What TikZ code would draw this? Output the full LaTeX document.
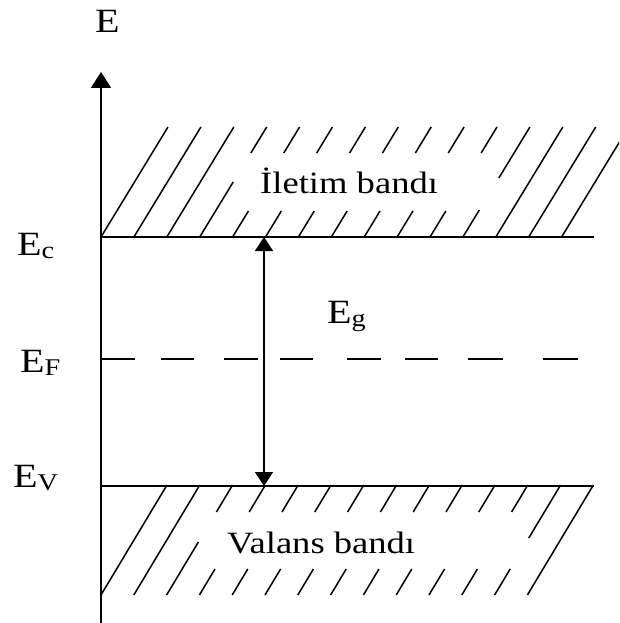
\documentclass[tikz,border=0pt]{standalone}
\usepackage{fontspec}
\setmainfont[FakeStretch=1.18]{Liberation Serif}
\usetikzlibrary{arrows.meta}
\newcommand\mysub[1]{\raisebox{-3pt}{\fontsize{24}{24}\selectfont #1}}
% conduction-band hatch segment: line index, y from, y to
\newcommand\chatch[3]{\draw[hatchline] ({101+32.9*#1+0.609*(237-#2)},#2) -- ({101+32.9*#1+0.609*(237-#3)},#3);}
% valence-band hatch segment
\newcommand\vhatch[3]{\draw[hatchline] ({167+32.8*#1-0.6*(#2-485)},#2) -- ({167+32.8*#1-0.6*(#3-485)},#3);}
\begin{document}
\begin{tikzpicture}[x=1pt,y=-1pt,
  hatchline/.style={line width=1.5pt},
  level/.style={line width=1.6pt},
  biglbl/.style={inner sep=0pt,anchor=base west,font=\fontsize{34}{38}\selectfont},
  bandlbl/.style={inner sep=0pt,anchor=base west,font=\fontsize{31}{36}\selectfont}]
\useasboundingbox (0,0) rectangle (619,623);

% hatching
\begin{scope}
\clip (0,0) rectangle (619,623);
\foreach \k in {0,1,2,12,13,14}{\chatch{\k}{237}{127}}
\chatch{3}{237}{182}\chatch{3}{153}{127}
\foreach \k in {4,...,10}{\chatch{\k}{237}{211}\chatch{\k}{153}{127}}
\chatch{11}{237}{210}\chatch{11}{178}{127}
\foreach \k in {0,1,13}{\vhatch{\k}{485}{595}}
\vhatch{2}{485}{512}\vhatch{2}{542}{595}
\foreach \k in {3,...,11}{\vhatch{\k}{485}{512}\vhatch{\k}{569}{595}}
\vhatch{12}{485}{538}\vhatch{12}{569}{595}
\end{scope}

% coordinates
\coordinate (axb) at (101,623);
\coordinate (axt) at (101,72);
\coordinate (c0) at (101,237);
\coordinate (c1) at (594,237);
\coordinate (v0) at (101,486);
\coordinate (v1) at (594,486);
\coordinate (g0) at (264,237);
\coordinate (g1) at (264,486);

% axis
\draw[line width=1.8pt,-{Triangle[width=20pt,length=16pt]}] (axb) -- (axt);
% band edges
\draw[level] (c0) -- (c1);
\draw[level] (v0) -- (v1);
% Fermi level dashes
\foreach \a/\b in {101/135,161/194,224/258,280/313,347/381,405/438,468/503,543/578}
  {\draw[line width=1.6pt] (\a,359) -- (\b,359);}
% gap arrow
\draw[line width=1.5pt,{Triangle[width=18pt,length=14pt]}-{Triangle[width=18pt,length=14pt]}] (g1) -- (g0);

% labels
\node[biglbl] (E) at (95,33) {E};
\node[biglbl] (Ec) at (17,255) {E\mysub{c}};
\node[biglbl] (EF) at (20,372) {E\mysub{F}};
\node[biglbl] (EV) at (13,487) {E\mysub{V}};
\node[biglbl] (Eg) at (327,323) {E\mysub{g}};
\node[bandlbl] (cb) at (260,193) {İletim bandı};
\node[bandlbl] (vb) at (227,553) {Valans bandı};
\end{tikzpicture}
\end{document}
